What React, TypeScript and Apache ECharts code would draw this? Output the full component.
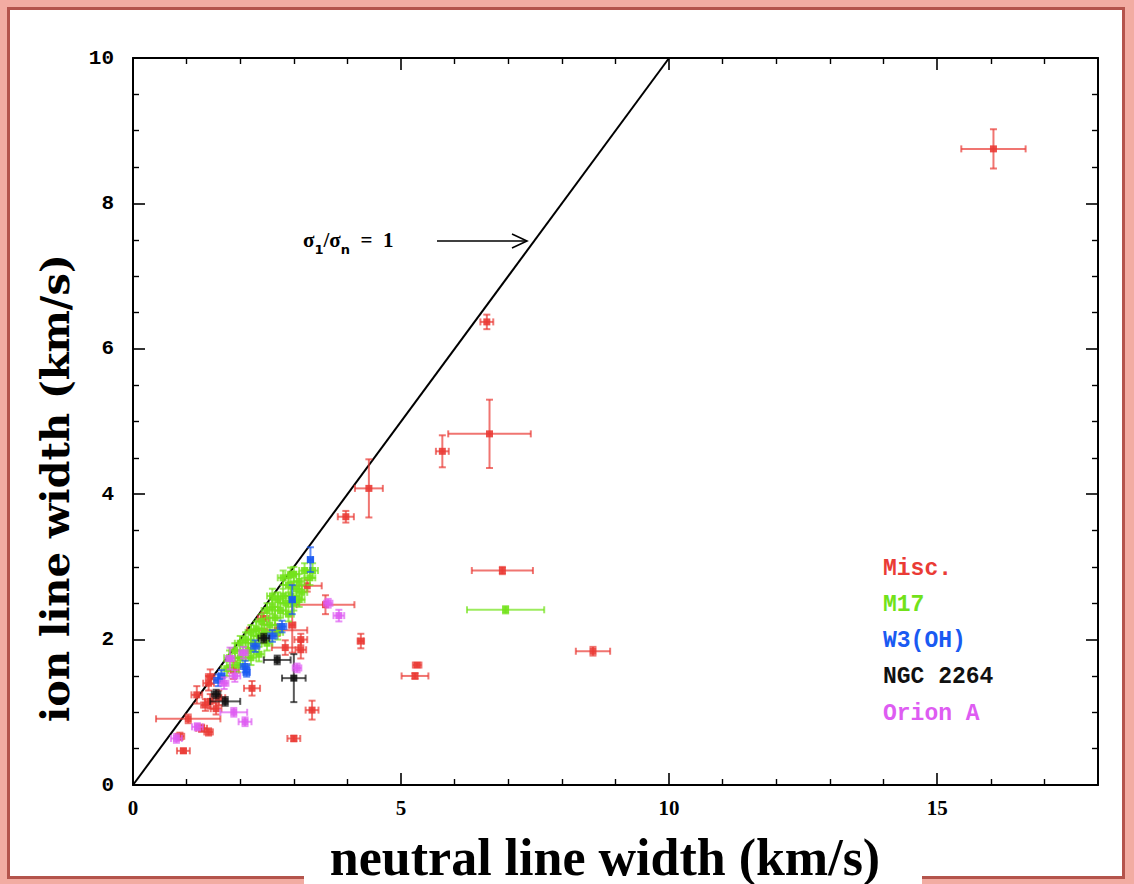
import React, { useEffect, useRef } from "react";
import * as echarts from "echarts";

// [x, y, xerr, yerr]
const misc: number[][] = [
  [16.05, 8.75, 0.6, 0.27],
  [6.6, 6.37, 0.12, 0.1],
  [6.65, 4.83, 0.77, 0.47],
  [5.77, 4.59, 0.12, 0.22],
  [4.4, 4.08, 0.26, 0.4],
  [3.97, 3.69, 0.15, 0.08],
  [4.25, 1.98, 0.06, 0.1],
  [6.89, 2.95, 0.57, 0.05],
  [8.58, 1.84, 0.32, 0.06],
  [5.26, 1.5, 0.25, 0.04],
  [5.3, 1.65, 0.08, 0.03],
  [3.25, 2.74, 0.27, 0.08],
  [3.59, 2.48, 0.54, 0.13],
  [2.97, 2.2, 0.06, 0.38],
  [3.13, 2.0, 0.12, 0.08],
  [2.69, 2.13, 0.56, 0.08],
  [2.43, 2.29, 0.1, 0.08],
  [2.84, 1.89, 0.25, 0.1],
  [3.13, 1.86, 0.1, 0.12],
  [3.34, 1.03, 0.12, 0.13],
  [3.0, 0.64, 0.12, 0.04],
  [2.22, 1.33, 0.15, 0.1],
  [1.875, 1.58, 0.1, 0.12],
  [1.41, 1.4, 0.1, 0.1],
  [1.44, 1.49, 0.08, 0.1],
  [1.19, 1.24, 0.1, 0.12],
  [1.44, 1.15, 0.1, 0.1],
  [1.6, 1.2, 0.12, 0.1],
  [1.35, 1.1, 0.08, 0.08],
  [1.55, 1.05, 0.1, 0.08],
  [1.03, 0.91, 0.6, 0.06],
  [1.28, 0.78, 0.1, 0.05],
  [1.41, 0.73, 0.08, 0.05],
  [0.875, 0.67, 0.08, 0.05],
  [0.94, 0.47, 0.12, 0.03],
  [2.45, 2.05, 0.1, 0.1],
];

const m17: number[][] = [
  [6.95, 2.41, 0.72, 0.05],
  [3.0, 2.9, 0.1, 0.1],
  [2.9, 2.75, 0.1, 0.1],
  [3.1, 2.8, 0.1, 0.1],
  [2.8, 2.6, 0.1, 0.1],
  [2.7, 2.55, 0.1, 0.1],
  [2.6, 2.45, 0.1, 0.1],
  [2.5, 2.4, 0.1, 0.1],
  [2.4, 2.25, 0.1, 0.1],
  [2.3, 2.15, 0.1, 0.1],
  [2.2, 2.1, 0.1, 0.1],
  [2.1, 2.0, 0.1, 0.1],
  [2.0, 1.95, 0.1, 0.1],
  [1.9, 1.85, 0.1, 0.1],
  [1.8, 1.75, 0.1, 0.1],
  [2.55, 2.2, 0.1, 0.1],
  [2.65, 2.3, 0.1, 0.1],
  [2.75, 2.4, 0.1, 0.1],
  [2.85, 2.5, 0.1, 0.1],
  [2.95, 2.6, 0.1, 0.1],
  [3.05, 2.7, 0.1, 0.1],
  [2.35, 2.05, 0.1, 0.1],
  [2.25, 1.95, 0.1, 0.1],
  [2.15, 1.85, 0.1, 0.1],
  [2.45, 2.1, 0.1, 0.1],
  [2.0, 1.75, 0.1, 0.1],
  [2.6, 2.6, 0.1, 0.1],
  [2.8, 2.85, 0.1, 0.1],
  [3.0, 2.5, 0.1, 0.1],
  [2.9, 2.35, 0.1, 0.1],
  [2.7, 2.1, 0.1, 0.1],
  [2.94, 2.89, 0.1, 0.1],
  [3.2, 2.95, 0.1, 0.1],
  [3.3, 2.85, 0.1, 0.1],
  [3.35, 2.95, 0.1, 0.1],
  [3.15, 2.65, 0.1, 0.1],
  [2.35, 1.8, 0.1, 0.1],
  [2.2, 1.75, 0.1, 0.1],
  [1.95, 1.65, 0.1, 0.1],
  [2.5, 1.95, 0.1, 0.1],
  [3.1, 2.55, 0.1, 0.1],
  [1.75, 1.6, 0.1, 0.1],
];

const w3oh: number[][] = [
  [3.31, 3.1, 0.05, 0.17],
  [2.97, 2.55, 0.05, 0.2],
  [2.78, 2.18, 0.08, 0.08],
  [2.28, 1.91, 0.08, 0.08],
  [2.6, 2.05, 0.08, 0.08],
  [1.59, 1.44, 0.08, 0.08],
  [2.09, 1.63, 0.08, 0.08],
  [2.12, 1.55, 0.06, 0.06],
  [1.65, 1.5, 0.06, 0.08],
];

const ngc2264: number[][] = [
  [2.44, 2.02, 0.1, 0.06],
  [2.69, 1.72, 0.25, 0.06],
  [3.0, 1.47, 0.22, 0.33],
  [1.72, 1.15, 0.28, 0.06],
  [1.55, 1.25, 0.08, 0.06],
];

const orionA: number[][] = [
  [3.64, 2.5, 0.08, 0.06],
  [3.84, 2.33, 0.1, 0.08],
  [3.06, 1.61, 0.08, 0.06],
  [2.06, 1.82, 0.08, 0.08],
  [1.81, 1.74, 0.08, 0.15],
  [1.9, 1.5, 0.1, 0.08],
  [1.88, 1.0, 0.25, 0.06],
  [2.09, 0.87, 0.12, 0.06],
  [1.2, 0.8, 0.1, 0.05],
  [0.81, 0.64, 0.1, 0.06],
  [1.7, 1.4, 0.08, 0.08],
];

const xTicks = [0, 5, 10, 15];
const yTicks = [0, 2, 4, 6, 8, 10];
const unityLine = [[0, 0], [10, 10]];

const groups = [
  { name: "Misc.", data: misc, color: "#ea3b35" },
  { name: "M17", data: m17, color: "#72e21a" },
  { name: "W3(OH)", data: w3oh, color: "#1a5af2" },
  { name: "NGC 2264", data: ngc2264, color: "#111111" },
  { name: "Orion A", data: orionA, color: "#de5cf2" },
];

function makeRender(color: string) {
  return (params: any, api: any) => {
    const x = api.value(0), y = api.value(1), ex = api.value(2), ey = api.value(3);
    const c = api.coord([x, y]);
    const l = api.coord([x - ex, y]);
    const r = api.coord([x + ex, y]);
    const t = api.coord([x, y + ey]);
    const b = api.coord([x, y - ey]);
    const st = { stroke: color, lineWidth: 2, opacity: 0.7 };
    const cap = 3.5;
    const children: any[] = [
      { type: "line", shape: { x1: l[0], y1: c[1], x2: r[0], y2: c[1] }, style: st },
      { type: "line", shape: { x1: l[0], y1: c[1] - cap, x2: l[0], y2: c[1] + cap }, style: st },
      { type: "line", shape: { x1: r[0], y1: c[1] - cap, x2: r[0], y2: c[1] + cap }, style: st },
      { type: "line", shape: { x1: c[0], y1: t[1], x2: c[0], y2: b[1] }, style: st },
      { type: "line", shape: { x1: c[0] - cap, y1: t[1], x2: c[0] + cap, y2: t[1] }, style: st },
      { type: "line", shape: { x1: c[0] - cap, y1: b[1], x2: c[0] + cap, y2: b[1] }, style: st },
      { type: "rect", shape: { x: c[0] - 3.5, y: c[1] - 3.5, width: 7, height: 7 }, style: { fill: color, opacity: 0.9 } },
    ];
    return { type: "group", children };
  };
}

export default function App() {
  const ref = useRef<HTMLDivElement>(null);
  useEffect(() => {
    if (!ref.current) return;
    const chart = echarts.init(ref.current, null, { renderer: "svg" });
    const axisLine = { show: true, onZero: false, lineStyle: { color: "#000", width: 2 } };
    const tick = { show: true, inside: true, length: 12, lineStyle: { color: "#000", width: 1.6 } };
    const xMinor = { show: true, splitNumber: 5, length: 6, lineStyle: { color: "#000", width: 1.4 } };
    const yMinor = { show: true, splitNumber: 4, length: 6, lineStyle: { color: "#000", width: 1.4 } };
    const legendTexts = groups.map((g, i) => ({
      type: "text",
      left: 883,
      top: 557 + i * 36.3,
      style: { text: g.name, fill: g.color, font: 'bold 23px "Liberation Mono"' },
    }));
    const option: any = {
      animation: false,
      backgroundColor: "#ffffff",
      grid: { left: 133, top: 58, right: 36, bottom: 99, show: false },
      xAxis: [
        {
          type: "value", min: 0, max: 18, interval: 5, position: "bottom",
          axisLine, axisTick: tick, minorTick: xMinor, splitLine: { show: false },
          axisLabel: {
            margin: 12, color: "#000", fontSize: 21, fontWeight: "bold", fontFamily: "Liberation Serif",
            formatter: (v: number) => (xTicks.includes(v) ? String(v) : ""),
          },
        },
        {
          type: "value", min: 0, max: 18, interval: 5, position: "top",
          axisLine, axisTick: tick, minorTick: xMinor, splitLine: { show: false },
          axisLabel: { show: false },
        },
      ],
      yAxis: [
        {
          type: "value", min: 0, max: 10, interval: 2, position: "left",
          axisLine, axisTick: tick, minorTick: yMinor, splitLine: { show: false },
          axisLabel: {
            margin: 19, color: "#000", fontSize: 21, fontWeight: "bold", fontFamily: "Liberation Mono",
            formatter: (v: number) => (yTicks.includes(v) ? String(v) : ""),
          },
        },
        {
          type: "value", min: 0, max: 10, interval: 2, position: "right",
          axisLine, axisTick: tick, minorTick: yMinor, splitLine: { show: false },
          axisLabel: { show: false },
        },
      ],
      graphic: [
        { type: "rect", left: 0, top: 0, z: -10, shape: { width: 1134, height: 884 }, style: { fill: "#f2aca2" } },
        { type: "rect", left: 7, top: 7, z: -9, shape: { width: 1115, height: 869 }, style: { fill: "#ffffff", stroke: "#b4544c", lineWidth: 3 } },
        { type: "rect", left: 304, top: 846, z: -8, shape: { width: 618, height: 38 }, style: { fill: "#ffffff" } },
        {
          type: "text", x: 605, y: 883,
          style: { text: "neutral line width (km/s)", fill: "#000", font: 'bold 52px "Liberation Serif"', align: "center", verticalAlign: "bottom" },
        },
        {
          type: "text", x: 54, y: 488, rotation: Math.PI / 2, originX: 0, originY: 0,
          style: { text: "ion line width (km/s)", fill: "#000", font: 'bold 40px "DejaVu Serif"', align: "center", verticalAlign: "middle" },
        },
        {
          type: "text", left: 303, top: 229,
          style: {
            rich: {
              n: { font: 'bold 21px "Liberation Serif"', fill: "#000" },
              s: { font: 'bold 13px "DejaVu Sans"', fill: "#000", verticalAlign: "bottom", padding: [0, 0, -6, 0] },
            },
            text: "{n|σ}{s|1}{n|/σ}{s|n}{n|  =  1}",
          },
        },
        { type: "line", shape: { x1: 437, y1: 241, x2: 526, y2: 241 }, style: { stroke: "#000", lineWidth: 1.6 } },
        { type: "polyline", shape: { points: [[512, 234], [527, 241], [512, 248]] }, style: { stroke: "#000", lineWidth: 1.6, fill: "none" } },
        ...legendTexts,
      ],
      series: [
        {
          type: "line", data: unityLine, xAxisIndex: 0, yAxisIndex: 0, symbol: "none",
          lineStyle: { color: "#000", width: 2 }, z: 1,
        },
        ...groups.map((g) => ({
          type: "custom", name: g.name, data: g.data, xAxisIndex: 0, yAxisIndex: 0,
          encode: { x: 0, y: 1 },
          renderItem: makeRender(g.color), z: 2,
        })),
      ],
    };
    chart.setOption(option);
    return () => chart.dispose();
  }, []);
  return (
    <div
      ref={ref}
      style={{ position: "fixed", left: 0, top: 0, width: 1134, height: 884 }}
    />
  );
}
